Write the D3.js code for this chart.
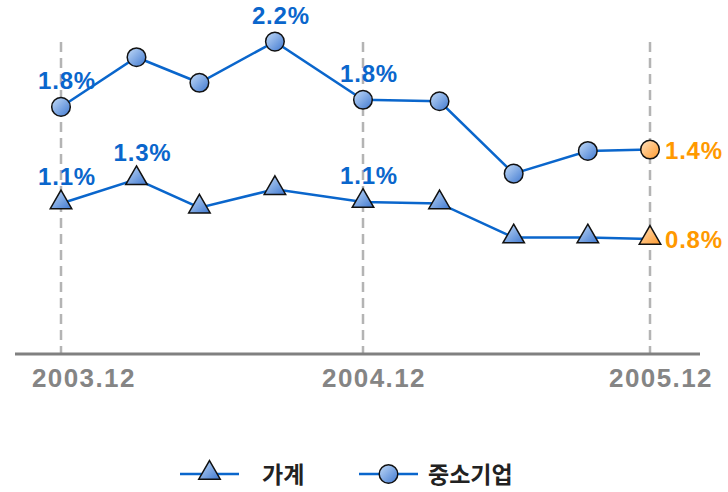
<!DOCTYPE html>
<html>
<head>
<meta charset="utf-8">
<script src="https://cdn.jsdelivr.net/npm/d3@7"></script>
<style>
  html, body { margin: 0; padding: 0; background: #fff; }
  svg { display: block; }
</style>
</head>
<body>
<div id="chart"></div>
<script>
(function(){
    const width = 728;
    const height = 492;

    // months after 2003.12 for each observation
    const months = [0, 3, 5.5, 8.5, 12, 15.2, 18.3, 21.4, 24];
    const tickMonths = [0, 12, 24];
    const tickLabels = ["2003.12", "2004.12", "2005.12"];

    // 가계 (households), %
    const household = [1.06, 1.23, 1.03, 1.16, 1.07, 1.06, 0.82, 0.82, 0.81];
    const householdLabels = ["1.1%", "1.3%", null, null, "1.1%", null, null, null, "0.8%"];

    // 중소기업 (SMEs), %
    const sme = [1.74, 2.09, 1.91, 2.2, 1.79, 1.78, 1.27, 1.43, 1.44];
    const smeLabels = ["1.8%", null, null, "2.2%", "1.8%", null, null, null, "1.4%"];

    const blue = "#0a66cc";
    const orange = "#ff9900";

    const svg = d3.select("#chart")
        .append("svg")
        .attr("width", width)
        .attr("height", height);

    // gradients for markers
    const defs = svg.append("defs");
    function grad(id, c1, c2) {
        const g = defs.append("linearGradient")
            .attr("id", id)
            .attr("x1", "0%").attr("y1", "0%")
            .attr("x2", "100%").attr("y2", "100%");
        g.append("stop").attr("offset", "0%").attr("stop-color", c1);
        g.append("stop").attr("offset", "100%").attr("stop-color", c2);
    }
    grad("gBlue", "#c4dcf8", "#3f78d0");
    grad("gOrange", "#ffe2bf", "#ff9a2e");

    const x = d3.scaleLinear()
        .domain([0, 12, 24])
        .range([61, 363, 650]);

    const y = d3.scaleLinear()
        .domain([0, 2.2])
        .range([354, 41.6]);

    // dashed gridlines at the labelled periods
    svg.selectAll(".grid")
        .data(tickMonths)
        .enter()
        .append("line")
        .attr("x1", d => x(d))
        .attr("x2", d => x(d))
        .attr("y1", 42)
        .attr("y2", y(0))
        .style("stroke", "#b4b4b4")
        .style("stroke-width", 2.5)
        .style("stroke-dasharray", "10,6");

    // baseline axis
    svg.append("line")
        .attr("x1", 15)
        .attr("x2", 700)
        .attr("y1", y(0))
        .attr("y2", y(0))
        .style("stroke", "#808080")
        .style("stroke-width", 3);

    // x tick labels
    const tickText = svg.selectAll(".tick-label")
        .data(tickMonths)
        .enter()
        .append("text")
        .attr("y", 387)
        .attr("text-anchor", "middle")
        .style("font-family", "'Liberation Sans', Arial, sans-serif")
        .style("font-size", "26px")
        .style("font-weight", "bold")
        .style("letter-spacing", "1.4px")
        .style("fill", "#858585")
        .text((d, i) => tickLabels[i]);

    tickText.each(function(d) {
        const w = this.getComputedTextLength();
        let cx = x(d) + 11;
        cx = Math.max(32 + w / 2, Math.min(715 - w / 2, cx));
        d3.select(this).attr("x", cx);
    });

    const line = d3.line()
        .x((d, i) => x(months[i]))
        .y(d => y(d));

    const triangle = d3.symbol().type(d3.symbolTriangle).size(200);

    function drawSeries(values, labels, marker) {
        svg.append("path")
            .datum(values)
            .attr("d", line)
            .style("fill", "none")
            .style("stroke", blue)
            .style("stroke-width", 2.5);

        const last = values.length - 1;
        const pts = svg.selectAll(null)
            .data(values)
            .enter();

        if (marker === "circle") {
            pts.append("circle")
                .attr("cx", (d, i) => x(months[i]))
                .attr("cy", d => y(d))
                .attr("r", 9.3)
                .style("fill", (d, i) => i === last ? "url(#gOrange)" : "url(#gBlue)")
                .style("stroke", "#111")
                .style("stroke-width", 1.5);
        } else {
            pts.append("path")
                .attr("d", triangle)
                .attr("transform", (d, i) => `translate(${x(months[i])},${y(d) - 1})`)
                .style("fill", (d, i) => i === last ? "url(#gOrange)" : "url(#gBlue)")
                .style("stroke", "#111")
                .style("stroke-width", 1.5);
        }

        // value labels
        svg.selectAll(null)
            .data(values.map((v, i) => ({ v, i, label: labels[i] })).filter(d => d.label))
            .enter()
            .append("text")
            .attr("x", d => d.i === last ? x(months[d.i]) + 15 : x(months[d.i]) + 6)
            .attr("y", d => d.i === last ? y(d.v) + 9 : y(d.v) - 18)
            .attr("text-anchor", d => d.i === last ? "start" : "middle")
            .style("font-family", "'Liberation Sans', Arial, sans-serif")
            .style("font-size", "24px")
            .style("font-weight", "bold")
            .style("letter-spacing", "0.8px")
            .style("fill", d => d.i === last ? orange : blue)
            .text(d => d.label);
    }

    drawSeries(sme, smeLabels, "circle");
    drawSeries(household, householdLabels, "triangle");

    // legend
    const legend = svg.append("g");
    const legendItems = [
        { name: "가계", marker: "triangle", x0: 180, tx: 262 },
        { name: "중소기업", marker: "circle", x0: 359, tx: 428 }
    ];
    legendItems.forEach(item => {
        const ly = 474;
        legend.append("line")
            .attr("x1", item.x0)
            .attr("x2", item.x0 + 59)
            .attr("y1", ly)
            .attr("y2", ly)
            .style("stroke", blue)
            .style("stroke-width", 2.5);
        if (item.marker === "circle") {
            legend.append("circle")
                .attr("cx", item.x0 + 29.5)
                .attr("cy", ly)
                .attr("r", 9.3)
                .style("fill", "url(#gBlue)")
                .style("stroke", "#111")
                .style("stroke-width", 1.5);
        } else {
            legend.append("path")
                .attr("d", triangle)
                .attr("transform", `translate(${item.x0 + 29.5},${ly - 1})`)
                .style("fill", "url(#gBlue)")
                .style("stroke", "#111")
                .style("stroke-width", 1.5);
        }
        legend.append("text")
            .attr("x", item.tx)
            .attr("y", ly + 9)
            .style("font-family", "'Noto Sans CJK KR', sans-serif")
            .style("font-size", "23px")
            .style("font-weight", "bold")
            .style("fill", "#222")
            .text(item.name);
    });
})();
</script>
</body>
</html>
